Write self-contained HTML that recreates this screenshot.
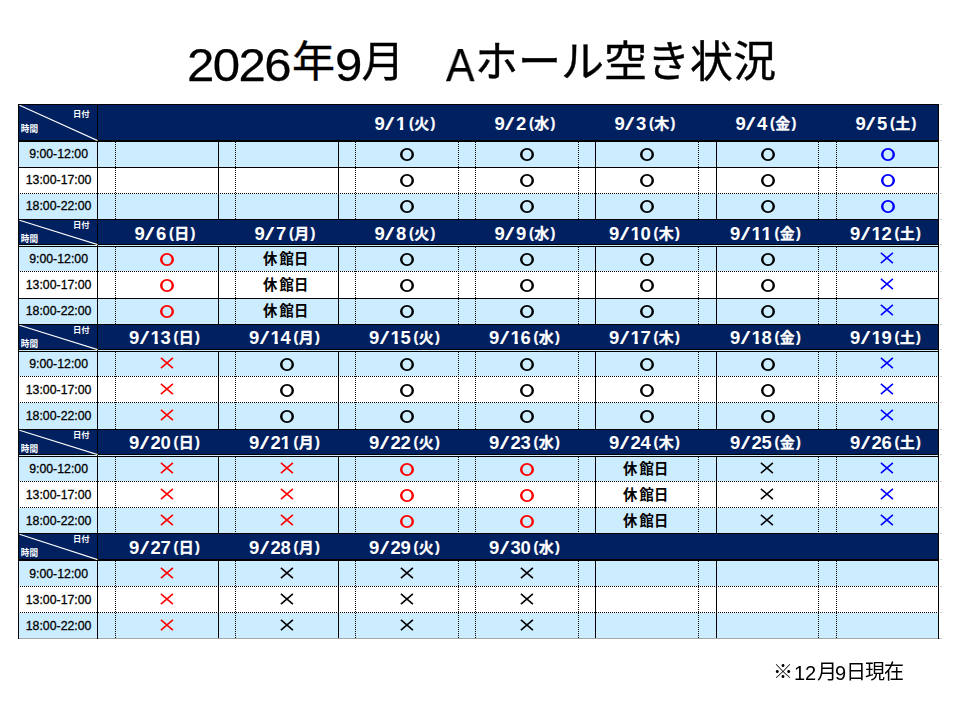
<!DOCTYPE html>
<html lang="ja"><head><meta charset="utf-8"><title>2026年9月 Aホール空き状況</title>
<style>
html,body{margin:0;padding:0;background:#fff}
body{width:960px;height:720px;position:relative;overflow:hidden;font-family:"Liberation Sans","Noto Sans CJK JP",sans-serif;color:#000}
.r,.hd,.vd,.k,.diag,.tm,.dh,.o,.x,.hk,.tl,.nl,.corner,.tk,.cl,.hc{position:absolute}
.corner{left:0;top:0}
.hd{height:1px;background:repeating-linear-gradient(90deg,#000 0,#000 1px,transparent 1px,transparent 2px)}
.vd{width:1px;background:repeating-linear-gradient(180deg,#000 0,#000 1px,transparent 1px,transparent 2px)}
.k{overflow:visible}
h1{margin:0;font-weight:normal;font-size:45.5px}
.tl{will-change:transform;-webkit-text-stroke:.25px #000;top:39.8px;font-size:45.5px;line-height:52px;white-space:nowrap}
.tk{top:41px;font-size:43px;line-height:43px;white-space:nowrap;-webkit-text-stroke:.4px #000;font-family:"Liberation Sans","Noto Sans CJK JP",sans-serif}
.nl{will-change:transform;top:661px;font-size:20px;line-height:24px;white-space:nowrap}
.tm{left:19.6px;width:78px;-webkit-text-stroke:.3px #000;height:15.48px;line-height:15.48px;text-align:center;font-size:12.3px;white-space:nowrap}
.dh{color:#fff;font-size:18.5px;font-weight:bold;height:19.2px;line-height:19.2px;white-space:nowrap}
.dh .d{display:inline-block;letter-spacing:-.39px;transform:scaleY(.946);transform-origin:50% 16px}
.dh .one{display:inline-block;clip-path:polygon(0 0,100% 0,100% 13.9px,7.3px 13.9px,7.3px 100%,3.9px 100%,3.9px 13.9px,0 13.9px)}
.dh .sl{display:inline-block;width:11.7px;text-align:center;position:relative;left:-.35px}
.dh .sl i{display:inline-block;font-style:normal;font-weight:normal;font-size:17.5px;transform:scale(1.95,1.1);transform-origin:50% 62%}
.dh .p{display:inline-block;font-size:14.5px;position:relative;top:-2.5px;width:4.83px;-webkit-text-stroke:.2px #fff}
.dh .pl{margin-left:3.2px}
.dh .pr{margin-left:1.2px}
.dh .kj{position:relative;top:-.6px;margin:0 .1px 0 .4px;font-size:15px;line-height:0;font-weight:bold;color:#fff;-webkit-text-stroke:.3px #fff;font-family:"Liberation Sans","Noto Sans CJK JP",sans-serif}
.hk{width:100px;height:25px}
.hc{top:4.6px;font-size:14.3px;line-height:14.3px;font-weight:bold;color:#000;white-space:nowrap;font-family:"Liberation Sans","Noto Sans CJK JP",sans-serif}
.cl{color:#fff;font-weight:bold;white-space:nowrap;line-height:1;font-family:"Liberation Sans","Noto Sans CJK JP",sans-serif}
</style></head>
<body>
<h1 aria-label="2026年9月　Aホール空き状況"><span class="tl" style="left:187.4px;letter-spacing:-1.45px;transform:scaleX(1.08);transform-origin:0 0">2026</span><span class="tl" style="left:334.9px;transform:scaleX(1.08);transform-origin:0 0">9</span><span class="tl" style="left:446.3px;transform:scaleX(.94);transform-origin:0 0">A</span><span class="tk" style="left:291.9px">年</span><span class="tk" style="left:361.5px">月</span><span class="tk" style="left:475px">ホール空き状況</span></h1>
<div class="tbl"><div class="r" style="left:18px;top:104px;width:921px;height:1px;background:#000"></div>
<div class="r" style="left:18px;top:105px;width:921px;height:35px;background:#002060"></div>
<div class="r" style="left:18px;top:140px;width:921px;height:2px;background:#000"></div>
<div class="r" style="left:18px;top:142px;width:921px;height:25px;background:#ccecff"></div>
<div class="r" style="left:18px;top:168px;width:921px;height:25px;background:#fff"></div>
<div class="r" style="left:18px;top:194px;width:921px;height:25px;background:#ccecff"></div>
<div class="r" style="left:18px;top:167px;width:921px;height:1px;background:#000"></div>
<div class="hd" style="left:18px;top:193px;width:921px"></div>
<div class="r" style="left:18px;top:219px;width:921px;height:1px;background:#000"></div>
<div class="r" style="left:97px;top:142px;width:1px;height:77px;background:#000"></div>
<div class="vd" style="left:115px;top:142px;height:77px"></div>
<div class="r" style="left:218px;top:142px;width:1px;height:77px;background:#000"></div>
<div class="vd" style="left:235px;top:142px;height:77px"></div>
<div class="r" style="left:338px;top:142px;width:1px;height:77px;background:#000"></div>
<div class="vd" style="left:355px;top:142px;height:77px"></div>
<div class="vd" style="left:458px;top:142px;height:77px"></div>
<div class="vd" style="left:475px;top:142px;height:77px"></div>
<div class="vd" style="left:578px;top:142px;height:77px"></div>
<div class="r" style="left:595px;top:142px;width:1px;height:77px;background:#000"></div>
<div class="vd" style="left:698px;top:142px;height:77px"></div>
<div class="r" style="left:716px;top:142px;width:1px;height:77px;background:#000"></div>
<div class="vd" style="left:818px;top:142px;height:77px"></div>
<div class="vd" style="left:836px;top:142px;height:77px"></div>
<div class="r" style="left:18px;top:220px;width:921px;height:24px;background:#002060"></div>
<div class="r" style="left:18px;top:244px;width:921px;height:1px;background:#000"></div>
<div class="r" style="left:18px;top:245px;width:921px;height:1px;background:#ccecff"></div>
<div class="r" style="left:18px;top:246px;width:921px;height:1px;background:#000"></div>
<div class="r" style="left:18px;top:247px;width:921px;height:24px;background:#ccecff"></div>
<div class="r" style="left:18px;top:272px;width:921px;height:26px;background:#fff"></div>
<div class="r" style="left:18px;top:299px;width:921px;height:25px;background:#ccecff"></div>
<div class="hd" style="left:18px;top:271px;width:921px"></div>
<div class="r" style="left:18px;top:298px;width:921px;height:1px;background:#000"></div>
<div class="r" style="left:18px;top:324px;width:921px;height:1px;background:#000"></div>
<div class="r" style="left:97px;top:247px;width:1px;height:77px;background:#000"></div>
<div class="vd" style="left:115px;top:247px;height:77px"></div>
<div class="r" style="left:218px;top:247px;width:1px;height:77px;background:#000"></div>
<div class="vd" style="left:235px;top:247px;height:77px"></div>
<div class="r" style="left:338px;top:247px;width:1px;height:77px;background:#000"></div>
<div class="vd" style="left:355px;top:247px;height:77px"></div>
<div class="vd" style="left:458px;top:247px;height:77px"></div>
<div class="vd" style="left:475px;top:247px;height:77px"></div>
<div class="vd" style="left:578px;top:247px;height:77px"></div>
<div class="r" style="left:595px;top:247px;width:1px;height:77px;background:#000"></div>
<div class="vd" style="left:698px;top:247px;height:77px"></div>
<div class="r" style="left:716px;top:247px;width:1px;height:77px;background:#000"></div>
<div class="vd" style="left:818px;top:247px;height:77px"></div>
<div class="vd" style="left:836px;top:247px;height:77px"></div>
<div class="r" style="left:18px;top:325px;width:921px;height:24px;background:#002060"></div>
<div class="r" style="left:18px;top:349px;width:921px;height:1px;background:#000"></div>
<div class="r" style="left:18px;top:350px;width:921px;height:1px;background:#ccecff"></div>
<div class="r" style="left:18px;top:351px;width:921px;height:1px;background:#000"></div>
<div class="r" style="left:18px;top:352px;width:921px;height:24px;background:#ccecff"></div>
<div class="r" style="left:18px;top:377px;width:921px;height:25px;background:#fff"></div>
<div class="r" style="left:18px;top:403px;width:921px;height:26px;background:#ccecff"></div>
<div class="hd" style="left:18px;top:376px;width:921px"></div>
<div class="hd" style="left:18px;top:402px;width:921px"></div>
<div class="r" style="left:18px;top:429px;width:921px;height:1px;background:#000"></div>
<div class="r" style="left:97px;top:352px;width:1px;height:77px;background:#000"></div>
<div class="vd" style="left:115px;top:352px;height:77px"></div>
<div class="r" style="left:218px;top:352px;width:1px;height:77px;background:#000"></div>
<div class="vd" style="left:235px;top:352px;height:77px"></div>
<div class="r" style="left:338px;top:352px;width:1px;height:77px;background:#000"></div>
<div class="vd" style="left:355px;top:352px;height:77px"></div>
<div class="vd" style="left:458px;top:352px;height:77px"></div>
<div class="vd" style="left:475px;top:352px;height:77px"></div>
<div class="vd" style="left:578px;top:352px;height:77px"></div>
<div class="r" style="left:595px;top:352px;width:1px;height:77px;background:#000"></div>
<div class="vd" style="left:698px;top:352px;height:77px"></div>
<div class="r" style="left:716px;top:352px;width:1px;height:77px;background:#000"></div>
<div class="vd" style="left:818px;top:352px;height:77px"></div>
<div class="vd" style="left:836px;top:352px;height:77px"></div>
<div class="r" style="left:18px;top:430px;width:921px;height:24px;background:#002060"></div>
<div class="r" style="left:18px;top:454px;width:921px;height:1px;background:#000"></div>
<div class="r" style="left:18px;top:455px;width:921px;height:1px;background:#ccecff"></div>
<div class="r" style="left:18px;top:456px;width:921px;height:1px;background:#000"></div>
<div class="r" style="left:18px;top:457px;width:921px;height:24px;background:#ccecff"></div>
<div class="r" style="left:18px;top:482px;width:921px;height:25px;background:#fff"></div>
<div class="r" style="left:18px;top:508px;width:921px;height:25px;background:#ccecff"></div>
<div class="hd" style="left:18px;top:481px;width:921px"></div>
<div class="hd" style="left:18px;top:507px;width:921px"></div>
<div class="r" style="left:18px;top:533px;width:921px;height:1px;background:#000"></div>
<div class="r" style="left:97px;top:457px;width:1px;height:76px;background:#000"></div>
<div class="vd" style="left:115px;top:457px;height:76px"></div>
<div class="r" style="left:218px;top:457px;width:1px;height:76px;background:#000"></div>
<div class="vd" style="left:235px;top:457px;height:76px"></div>
<div class="r" style="left:338px;top:457px;width:1px;height:76px;background:#000"></div>
<div class="vd" style="left:355px;top:457px;height:76px"></div>
<div class="vd" style="left:458px;top:457px;height:76px"></div>
<div class="vd" style="left:475px;top:457px;height:76px"></div>
<div class="vd" style="left:578px;top:457px;height:76px"></div>
<div class="r" style="left:595px;top:457px;width:1px;height:76px;background:#000"></div>
<div class="vd" style="left:698px;top:457px;height:76px"></div>
<div class="r" style="left:716px;top:457px;width:1px;height:76px;background:#000"></div>
<div class="vd" style="left:818px;top:457px;height:76px"></div>
<div class="vd" style="left:836px;top:457px;height:76px"></div>
<div class="r" style="left:18px;top:534px;width:921px;height:25px;background:#002060"></div>
<div class="r" style="left:18px;top:559px;width:921px;height:2px;background:#000"></div>
<div class="r" style="left:18px;top:561px;width:921px;height:25px;background:#ccecff"></div>
<div class="r" style="left:18px;top:587px;width:921px;height:25px;background:#fff"></div>
<div class="r" style="left:18px;top:613px;width:921px;height:25px;background:#ccecff"></div>
<div class="hd" style="left:18px;top:586px;width:921px"></div>
<div class="hd" style="left:18px;top:612px;width:921px"></div>
<div class="r" style="left:18px;top:638px;width:924px;height:1px;background:#a6a6a6"></div>
<div class="r" style="left:97px;top:561px;width:1px;height:77px;background:#000"></div>
<div class="vd" style="left:115px;top:561px;height:77px"></div>
<div class="r" style="left:218px;top:561px;width:1px;height:77px;background:#000"></div>
<div class="vd" style="left:235px;top:561px;height:77px"></div>
<div class="r" style="left:338px;top:561px;width:1px;height:77px;background:#000"></div>
<div class="vd" style="left:355px;top:561px;height:77px"></div>
<div class="vd" style="left:458px;top:561px;height:77px"></div>
<div class="vd" style="left:475px;top:561px;height:77px"></div>
<div class="vd" style="left:578px;top:561px;height:77px"></div>
<div class="r" style="left:595px;top:561px;width:1px;height:77px;background:#000"></div>
<div class="vd" style="left:698px;top:561px;height:77px"></div>
<div class="r" style="left:716px;top:561px;width:1px;height:77px;background:#000"></div>
<div class="vd" style="left:818px;top:561px;height:77px"></div>
<div class="vd" style="left:836px;top:561px;height:77px"></div>
<div class="r" style="left:18px;top:104px;width:1px;height:535px;background:#000"></div>
<div class="r" style="left:97px;top:104px;width:1px;height:535px;background:#000"></div>
<div class="r" style="left:938px;top:104px;width:1px;height:535px;background:#000"></div>
<div class="r" style="left:940px;top:104px;width:2px;height:1px;background:#d0d0d0"></div>
<div class="r" style="left:940px;top:140px;width:2px;height:1px;background:#d0d0d0"></div>
<div class="r" style="left:940px;top:167px;width:2px;height:1px;background:#d0d0d0"></div>
<div class="r" style="left:940px;top:193px;width:2px;height:1px;background:#d0d0d0"></div>
<div class="r" style="left:940px;top:219px;width:2px;height:1px;background:#d0d0d0"></div>
<div class="r" style="left:940px;top:244px;width:2px;height:1px;background:#d0d0d0"></div>
<div class="r" style="left:940px;top:271px;width:2px;height:1px;background:#d0d0d0"></div>
<div class="r" style="left:940px;top:298px;width:2px;height:1px;background:#d0d0d0"></div>
<div class="r" style="left:940px;top:324px;width:2px;height:1px;background:#d0d0d0"></div>
<div class="r" style="left:940px;top:349px;width:2px;height:1px;background:#d0d0d0"></div>
<div class="r" style="left:940px;top:376px;width:2px;height:1px;background:#d0d0d0"></div>
<div class="r" style="left:940px;top:402px;width:2px;height:1px;background:#d0d0d0"></div>
<div class="r" style="left:940px;top:429px;width:2px;height:1px;background:#d0d0d0"></div>
<div class="r" style="left:940px;top:454px;width:2px;height:1px;background:#d0d0d0"></div>
<div class="r" style="left:940px;top:481px;width:2px;height:1px;background:#d0d0d0"></div>
<div class="r" style="left:940px;top:507px;width:2px;height:1px;background:#d0d0d0"></div>
<div class="r" style="left:940px;top:533px;width:2px;height:1px;background:#d0d0d0"></div>
<div class="r" style="left:940px;top:559px;width:2px;height:1px;background:#d0d0d0"></div>
<div class="r" style="left:940px;top:586px;width:2px;height:1px;background:#d0d0d0"></div>
<div class="r" style="left:940px;top:612px;width:2px;height:1px;background:#d0d0d0"></div>
<div class="r" style="left:940px;top:638px;width:2px;height:1px;background:#d0d0d0"></div>
<svg class="diag" style="left:19px;top:105px" width="79" height="36"><line x1="0.5" y1="0.3" x2="78.5" y2="35.6" stroke="#fff" stroke-width="1.15"/></svg>
<div class="corner"><span class="cl" style="left:73px;top:110.1px;font-size:8.3px">日付</span><span class="cl" style="left:20.8px;top:124.6px;font-size:8.6px">時間</span></div>
<svg class="diag" style="left:19px;top:220px" width="79" height="25"><line x1="0.5" y1="0.3" x2="78.5" y2="24.6" stroke="#fff" stroke-width="1.15"/></svg>
<div class="corner"><span class="cl" style="left:73px;top:220.5px;font-size:8.3px">日付</span><span class="cl" style="left:20.8px;top:234.6px;font-size:8.6px">時間</span></div>
<svg class="diag" style="left:19px;top:325px" width="79" height="25"><line x1="0.5" y1="0.3" x2="78.5" y2="24.6" stroke="#fff" stroke-width="1.15"/></svg>
<div class="corner"><span class="cl" style="left:73px;top:325.5px;font-size:8.3px">日付</span><span class="cl" style="left:20.8px;top:339.6px;font-size:8.6px">時間</span></div>
<svg class="diag" style="left:19px;top:430px" width="79" height="25"><line x1="0.5" y1="0.3" x2="78.5" y2="24.6" stroke="#fff" stroke-width="1.15"/></svg>
<div class="corner"><span class="cl" style="left:73px;top:430.5px;font-size:8.3px">日付</span><span class="cl" style="left:20.8px;top:444.6px;font-size:8.6px">時間</span></div>
<svg class="diag" style="left:19px;top:534px" width="79" height="26"><line x1="0.5" y1="0.3" x2="78.5" y2="25.6" stroke="#fff" stroke-width="1.15"/></svg>
<div class="corner"><span class="cl" style="left:73px;top:534.5px;font-size:8.3px">日付</span><span class="cl" style="left:20.8px;top:548.6px;font-size:8.6px">時間</span></div>
<div class="tm" style="top:147px">9:00-12:00</div>
<div class="tm" style="top:173px">13:00-17:00</div>
<div class="tm" style="top:199px">18:00-22:00</div>
<div class="tm" style="top:252px">9:00-12:00</div>
<div class="tm" style="top:278px">13:00-17:00</div>
<div class="tm" style="top:304px">18:00-22:00</div>
<div class="tm" style="top:357px">9:00-12:00</div>
<div class="tm" style="top:383px">13:00-17:00</div>
<div class="tm" style="top:409px">18:00-22:00</div>
<div class="tm" style="top:462px">9:00-12:00</div>
<div class="tm" style="top:488px">13:00-17:00</div>
<div class="tm" style="top:514px">18:00-22:00</div>
<div class="tm" style="top:567px">9:00-12:00</div>
<div class="tm" style="top:593px">13:00-17:00</div>
<div class="tm" style="top:619px">18:00-22:00</div>
<div class="dh" style="left:374.40px;top:114px"><span class="d">9</span><span class="sl"><i>/</i></span><span class="d"><span class="one">1</span></span><span class="p pl">(</span><span class="kj">火</span><span class="p pr">)</span></div>
<svg class="o" style="left:400px;top:148.05px" width="14" height="13" viewBox="0 0 14 13" role="img" aria-label="○"><path fill="#000000" fill-rule="evenodd" d="M0 6.5A7 6.5 0 1 0 14 6.5A7 6.5 0 1 0 0 6.5ZM2.45 6.5A4.55 4.8 0 1 0 11.55 6.5A4.55 4.8 0 1 0 2.45 6.5Z"/></svg>
<svg class="o" style="left:400px;top:174.05px" width="14" height="13" viewBox="0 0 14 13" role="img" aria-label="○"><path fill="#000000" fill-rule="evenodd" d="M0 6.5A7 6.5 0 1 0 14 6.5A7 6.5 0 1 0 0 6.5ZM2.45 6.5A4.55 4.8 0 1 0 11.55 6.5A4.55 4.8 0 1 0 2.45 6.5Z"/></svg>
<svg class="o" style="left:400px;top:200.05px" width="14" height="13" viewBox="0 0 14 13" role="img" aria-label="○"><path fill="#000000" fill-rule="evenodd" d="M0 6.5A7 6.5 0 1 0 14 6.5A7 6.5 0 1 0 0 6.5ZM2.45 6.5A4.55 4.8 0 1 0 11.55 6.5A4.55 4.8 0 1 0 2.45 6.5Z"/></svg>
<div class="dh" style="left:494.40px;top:114px"><span class="d">9</span><span class="sl"><i>/</i></span><span class="d">2</span><span class="p pl">(</span><span class="kj">水</span><span class="p pr">)</span></div>
<svg class="o" style="left:520px;top:148.05px" width="14" height="13" viewBox="0 0 14 13" role="img" aria-label="○"><path fill="#000000" fill-rule="evenodd" d="M0 6.5A7 6.5 0 1 0 14 6.5A7 6.5 0 1 0 0 6.5ZM2.45 6.5A4.55 4.8 0 1 0 11.55 6.5A4.55 4.8 0 1 0 2.45 6.5Z"/></svg>
<svg class="o" style="left:520px;top:174.05px" width="14" height="13" viewBox="0 0 14 13" role="img" aria-label="○"><path fill="#000000" fill-rule="evenodd" d="M0 6.5A7 6.5 0 1 0 14 6.5A7 6.5 0 1 0 0 6.5ZM2.45 6.5A4.55 4.8 0 1 0 11.55 6.5A4.55 4.8 0 1 0 2.45 6.5Z"/></svg>
<svg class="o" style="left:520px;top:200.05px" width="14" height="13" viewBox="0 0 14 13" role="img" aria-label="○"><path fill="#000000" fill-rule="evenodd" d="M0 6.5A7 6.5 0 1 0 14 6.5A7 6.5 0 1 0 0 6.5ZM2.45 6.5A4.55 4.8 0 1 0 11.55 6.5A4.55 4.8 0 1 0 2.45 6.5Z"/></svg>
<div class="dh" style="left:614.40px;top:114px"><span class="d">9</span><span class="sl"><i>/</i></span><span class="d">3</span><span class="p pl">(</span><span class="kj">木</span><span class="p pr">)</span></div>
<svg class="o" style="left:640px;top:148.05px" width="14" height="13" viewBox="0 0 14 13" role="img" aria-label="○"><path fill="#000000" fill-rule="evenodd" d="M0 6.5A7 6.5 0 1 0 14 6.5A7 6.5 0 1 0 0 6.5ZM2.45 6.5A4.55 4.8 0 1 0 11.55 6.5A4.55 4.8 0 1 0 2.45 6.5Z"/></svg>
<svg class="o" style="left:640px;top:174.05px" width="14" height="13" viewBox="0 0 14 13" role="img" aria-label="○"><path fill="#000000" fill-rule="evenodd" d="M0 6.5A7 6.5 0 1 0 14 6.5A7 6.5 0 1 0 0 6.5ZM2.45 6.5A4.55 4.8 0 1 0 11.55 6.5A4.55 4.8 0 1 0 2.45 6.5Z"/></svg>
<svg class="o" style="left:640px;top:200.05px" width="14" height="13" viewBox="0 0 14 13" role="img" aria-label="○"><path fill="#000000" fill-rule="evenodd" d="M0 6.5A7 6.5 0 1 0 14 6.5A7 6.5 0 1 0 0 6.5ZM2.45 6.5A4.55 4.8 0 1 0 11.55 6.5A4.55 4.8 0 1 0 2.45 6.5Z"/></svg>
<div class="dh" style="left:735.40px;top:114px"><span class="d">9</span><span class="sl"><i>/</i></span><span class="d">4</span><span class="p pl">(</span><span class="kj">金</span><span class="p pr">)</span></div>
<svg class="o" style="left:760.5px;top:148.05px" width="14" height="13" viewBox="0 0 14 13" role="img" aria-label="○"><path fill="#000000" fill-rule="evenodd" d="M0 6.5A7 6.5 0 1 0 14 6.5A7 6.5 0 1 0 0 6.5ZM2.45 6.5A4.55 4.8 0 1 0 11.55 6.5A4.55 4.8 0 1 0 2.45 6.5Z"/></svg>
<svg class="o" style="left:760.5px;top:174.05px" width="14" height="13" viewBox="0 0 14 13" role="img" aria-label="○"><path fill="#000000" fill-rule="evenodd" d="M0 6.5A7 6.5 0 1 0 14 6.5A7 6.5 0 1 0 0 6.5ZM2.45 6.5A4.55 4.8 0 1 0 11.55 6.5A4.55 4.8 0 1 0 2.45 6.5Z"/></svg>
<svg class="o" style="left:760.5px;top:200.05px" width="14" height="13" viewBox="0 0 14 13" role="img" aria-label="○"><path fill="#000000" fill-rule="evenodd" d="M0 6.5A7 6.5 0 1 0 14 6.5A7 6.5 0 1 0 0 6.5ZM2.45 6.5A4.55 4.8 0 1 0 11.55 6.5A4.55 4.8 0 1 0 2.45 6.5Z"/></svg>
<div class="dh" style="left:855.40px;top:114px"><span class="d">9</span><span class="sl"><i>/</i></span><span class="d">5</span><span class="p pl">(</span><span class="kj">土</span><span class="p pr">)</span></div>
<svg class="o" style="left:880.5px;top:148.05px" width="14" height="13" viewBox="0 0 14 13" role="img" aria-label="○"><path fill="#0000ff" fill-rule="evenodd" d="M0 6.5A7 6.5 0 1 0 14 6.5A7 6.5 0 1 0 0 6.5ZM2.45 6.5A4.55 4.8 0 1 0 11.55 6.5A4.55 4.8 0 1 0 2.45 6.5Z"/></svg>
<svg class="o" style="left:880.5px;top:174.05px" width="14" height="13" viewBox="0 0 14 13" role="img" aria-label="○"><path fill="#0000ff" fill-rule="evenodd" d="M0 6.5A7 6.5 0 1 0 14 6.5A7 6.5 0 1 0 0 6.5ZM2.45 6.5A4.55 4.8 0 1 0 11.55 6.5A4.55 4.8 0 1 0 2.45 6.5Z"/></svg>
<svg class="o" style="left:880.5px;top:200.05px" width="14" height="13" viewBox="0 0 14 13" role="img" aria-label="○"><path fill="#0000ff" fill-rule="evenodd" d="M0 6.5A7 6.5 0 1 0 14 6.5A7 6.5 0 1 0 0 6.5ZM2.45 6.5A4.55 4.8 0 1 0 11.55 6.5A4.55 4.8 0 1 0 2.45 6.5Z"/></svg>
<div class="dh" style="left:134.40px;top:224px"><span class="d">9</span><span class="sl"><i>/</i></span><span class="d">6</span><span class="p pl">(</span><span class="kj">日</span><span class="p pr">)</span></div>
<svg class="o" style="left:160px;top:253.05px" width="14" height="13" viewBox="0 0 14 13" role="img" aria-label="○"><path fill="#ff0000" fill-rule="evenodd" d="M0 6.5A7 6.5 0 1 0 14 6.5A7 6.5 0 1 0 0 6.5ZM2.45 6.5A4.55 4.8 0 1 0 11.55 6.5A4.55 4.8 0 1 0 2.45 6.5Z"/></svg>
<svg class="o" style="left:160px;top:279.05px" width="14" height="13" viewBox="0 0 14 13" role="img" aria-label="○"><path fill="#ff0000" fill-rule="evenodd" d="M0 6.5A7 6.5 0 1 0 14 6.5A7 6.5 0 1 0 0 6.5ZM2.45 6.5A4.55 4.8 0 1 0 11.55 6.5A4.55 4.8 0 1 0 2.45 6.5Z"/></svg>
<svg class="o" style="left:160px;top:305.05px" width="14" height="13" viewBox="0 0 14 13" role="img" aria-label="○"><path fill="#ff0000" fill-rule="evenodd" d="M0 6.5A7 6.5 0 1 0 14 6.5A7 6.5 0 1 0 0 6.5ZM2.45 6.5A4.55 4.8 0 1 0 11.55 6.5A4.55 4.8 0 1 0 2.45 6.5Z"/></svg>
<div class="dh" style="left:254.40px;top:224px"><span class="d">9</span><span class="sl"><i>/</i></span><span class="d">7</span><span class="p pl">(</span><span class="kj">月</span><span class="p pr">)</span></div>
<div class="hk" style="left:236px;top:247px"><span class="hc" style="left:26.9px">休</span><span class="hc" style="left:43.5px">館</span><span class="hc" style="left:58.1px">日</span></div>
<div class="hk" style="left:236px;top:273px"><span class="hc" style="left:26.9px">休</span><span class="hc" style="left:43.5px">館</span><span class="hc" style="left:58.1px">日</span></div>
<div class="hk" style="left:236px;top:299px"><span class="hc" style="left:26.9px">休</span><span class="hc" style="left:43.5px">館</span><span class="hc" style="left:58.1px">日</span></div>
<div class="dh" style="left:374.40px;top:224px"><span class="d">9</span><span class="sl"><i>/</i></span><span class="d">8</span><span class="p pl">(</span><span class="kj">火</span><span class="p pr">)</span></div>
<svg class="o" style="left:400px;top:253.05px" width="14" height="13" viewBox="0 0 14 13" role="img" aria-label="○"><path fill="#000000" fill-rule="evenodd" d="M0 6.5A7 6.5 0 1 0 14 6.5A7 6.5 0 1 0 0 6.5ZM2.45 6.5A4.55 4.8 0 1 0 11.55 6.5A4.55 4.8 0 1 0 2.45 6.5Z"/></svg>
<svg class="o" style="left:400px;top:279.05px" width="14" height="13" viewBox="0 0 14 13" role="img" aria-label="○"><path fill="#000000" fill-rule="evenodd" d="M0 6.5A7 6.5 0 1 0 14 6.5A7 6.5 0 1 0 0 6.5ZM2.45 6.5A4.55 4.8 0 1 0 11.55 6.5A4.55 4.8 0 1 0 2.45 6.5Z"/></svg>
<svg class="o" style="left:400px;top:305.05px" width="14" height="13" viewBox="0 0 14 13" role="img" aria-label="○"><path fill="#000000" fill-rule="evenodd" d="M0 6.5A7 6.5 0 1 0 14 6.5A7 6.5 0 1 0 0 6.5ZM2.45 6.5A4.55 4.8 0 1 0 11.55 6.5A4.55 4.8 0 1 0 2.45 6.5Z"/></svg>
<div class="dh" style="left:494.40px;top:224px"><span class="d">9</span><span class="sl"><i>/</i></span><span class="d">9</span><span class="p pl">(</span><span class="kj">水</span><span class="p pr">)</span></div>
<svg class="o" style="left:520px;top:253.05px" width="14" height="13" viewBox="0 0 14 13" role="img" aria-label="○"><path fill="#000000" fill-rule="evenodd" d="M0 6.5A7 6.5 0 1 0 14 6.5A7 6.5 0 1 0 0 6.5ZM2.45 6.5A4.55 4.8 0 1 0 11.55 6.5A4.55 4.8 0 1 0 2.45 6.5Z"/></svg>
<svg class="o" style="left:520px;top:279.05px" width="14" height="13" viewBox="0 0 14 13" role="img" aria-label="○"><path fill="#000000" fill-rule="evenodd" d="M0 6.5A7 6.5 0 1 0 14 6.5A7 6.5 0 1 0 0 6.5ZM2.45 6.5A4.55 4.8 0 1 0 11.55 6.5A4.55 4.8 0 1 0 2.45 6.5Z"/></svg>
<svg class="o" style="left:520px;top:305.05px" width="14" height="13" viewBox="0 0 14 13" role="img" aria-label="○"><path fill="#000000" fill-rule="evenodd" d="M0 6.5A7 6.5 0 1 0 14 6.5A7 6.5 0 1 0 0 6.5ZM2.45 6.5A4.55 4.8 0 1 0 11.55 6.5A4.55 4.8 0 1 0 2.45 6.5Z"/></svg>
<div class="dh" style="left:609.00px;top:224px"><span class="d">9</span><span class="sl"><i>/</i></span><span class="d"><span class="one">1</span>0</span><span class="p pl">(</span><span class="kj">木</span><span class="p pr">)</span></div>
<svg class="o" style="left:640px;top:253.05px" width="14" height="13" viewBox="0 0 14 13" role="img" aria-label="○"><path fill="#000000" fill-rule="evenodd" d="M0 6.5A7 6.5 0 1 0 14 6.5A7 6.5 0 1 0 0 6.5ZM2.45 6.5A4.55 4.8 0 1 0 11.55 6.5A4.55 4.8 0 1 0 2.45 6.5Z"/></svg>
<svg class="o" style="left:640px;top:279.05px" width="14" height="13" viewBox="0 0 14 13" role="img" aria-label="○"><path fill="#000000" fill-rule="evenodd" d="M0 6.5A7 6.5 0 1 0 14 6.5A7 6.5 0 1 0 0 6.5ZM2.45 6.5A4.55 4.8 0 1 0 11.55 6.5A4.55 4.8 0 1 0 2.45 6.5Z"/></svg>
<svg class="o" style="left:640px;top:305.05px" width="14" height="13" viewBox="0 0 14 13" role="img" aria-label="○"><path fill="#000000" fill-rule="evenodd" d="M0 6.5A7 6.5 0 1 0 14 6.5A7 6.5 0 1 0 0 6.5ZM2.45 6.5A4.55 4.8 0 1 0 11.55 6.5A4.55 4.8 0 1 0 2.45 6.5Z"/></svg>
<div class="dh" style="left:730.00px;top:224px"><span class="d">9</span><span class="sl"><i>/</i></span><span class="d"><span class="one">1</span><span class="one">1</span></span><span class="p pl">(</span><span class="kj">金</span><span class="p pr">)</span></div>
<svg class="o" style="left:760.5px;top:253.05px" width="14" height="13" viewBox="0 0 14 13" role="img" aria-label="○"><path fill="#000000" fill-rule="evenodd" d="M0 6.5A7 6.5 0 1 0 14 6.5A7 6.5 0 1 0 0 6.5ZM2.45 6.5A4.55 4.8 0 1 0 11.55 6.5A4.55 4.8 0 1 0 2.45 6.5Z"/></svg>
<svg class="o" style="left:760.5px;top:279.05px" width="14" height="13" viewBox="0 0 14 13" role="img" aria-label="○"><path fill="#000000" fill-rule="evenodd" d="M0 6.5A7 6.5 0 1 0 14 6.5A7 6.5 0 1 0 0 6.5ZM2.45 6.5A4.55 4.8 0 1 0 11.55 6.5A4.55 4.8 0 1 0 2.45 6.5Z"/></svg>
<svg class="o" style="left:760.5px;top:305.05px" width="14" height="13" viewBox="0 0 14 13" role="img" aria-label="○"><path fill="#000000" fill-rule="evenodd" d="M0 6.5A7 6.5 0 1 0 14 6.5A7 6.5 0 1 0 0 6.5ZM2.45 6.5A4.55 4.8 0 1 0 11.55 6.5A4.55 4.8 0 1 0 2.45 6.5Z"/></svg>
<div class="dh" style="left:850.00px;top:224px"><span class="d">9</span><span class="sl"><i>/</i></span><span class="d"><span class="one">1</span>2</span><span class="p pl">(</span><span class="kj">土</span><span class="p pr">)</span></div>
<svg class="x" style="left:880.3px;top:251.6px" width="14" height="12" viewBox="0 0 14 12" role="img" aria-label="×"><path d="M0.9 0.8 L12.9 11.2 M12.9 0.8 L0.9 11.2" stroke="#0000ff" stroke-width="1.55" fill="none"/></svg>
<svg class="x" style="left:880.3px;top:277.6px" width="14" height="12" viewBox="0 0 14 12" role="img" aria-label="×"><path d="M0.9 0.8 L12.9 11.2 M12.9 0.8 L0.9 11.2" stroke="#0000ff" stroke-width="1.55" fill="none"/></svg>
<svg class="x" style="left:880.3px;top:303.6px" width="14" height="12" viewBox="0 0 14 12" role="img" aria-label="×"><path d="M0.9 0.8 L12.9 11.2 M12.9 0.8 L0.9 11.2" stroke="#0000ff" stroke-width="1.55" fill="none"/></svg>
<div class="dh" style="left:129.00px;top:328px"><span class="d">9</span><span class="sl"><i>/</i></span><span class="d"><span class="one">1</span>3</span><span class="p pl">(</span><span class="kj">日</span><span class="p pr">)</span></div>
<svg class="x" style="left:159.8px;top:356.6px" width="14" height="12" viewBox="0 0 14 12" role="img" aria-label="×"><path d="M0.9 0.8 L12.9 11.2 M12.9 0.8 L0.9 11.2" stroke="#ff0000" stroke-width="1.55" fill="none"/></svg>
<svg class="x" style="left:159.8px;top:382.6px" width="14" height="12" viewBox="0 0 14 12" role="img" aria-label="×"><path d="M0.9 0.8 L12.9 11.2 M12.9 0.8 L0.9 11.2" stroke="#ff0000" stroke-width="1.55" fill="none"/></svg>
<svg class="x" style="left:159.8px;top:408.6px" width="14" height="12" viewBox="0 0 14 12" role="img" aria-label="×"><path d="M0.9 0.8 L12.9 11.2 M12.9 0.8 L0.9 11.2" stroke="#ff0000" stroke-width="1.55" fill="none"/></svg>
<div class="dh" style="left:249.00px;top:328px"><span class="d">9</span><span class="sl"><i>/</i></span><span class="d"><span class="one">1</span>4</span><span class="p pl">(</span><span class="kj">月</span><span class="p pr">)</span></div>
<svg class="o" style="left:280px;top:358.05px" width="14" height="13" viewBox="0 0 14 13" role="img" aria-label="○"><path fill="#000000" fill-rule="evenodd" d="M0 6.5A7 6.5 0 1 0 14 6.5A7 6.5 0 1 0 0 6.5ZM2.45 6.5A4.55 4.8 0 1 0 11.55 6.5A4.55 4.8 0 1 0 2.45 6.5Z"/></svg>
<svg class="o" style="left:280px;top:384.05px" width="14" height="13" viewBox="0 0 14 13" role="img" aria-label="○"><path fill="#000000" fill-rule="evenodd" d="M0 6.5A7 6.5 0 1 0 14 6.5A7 6.5 0 1 0 0 6.5ZM2.45 6.5A4.55 4.8 0 1 0 11.55 6.5A4.55 4.8 0 1 0 2.45 6.5Z"/></svg>
<svg class="o" style="left:280px;top:410.05px" width="14" height="13" viewBox="0 0 14 13" role="img" aria-label="○"><path fill="#000000" fill-rule="evenodd" d="M0 6.5A7 6.5 0 1 0 14 6.5A7 6.5 0 1 0 0 6.5ZM2.45 6.5A4.55 4.8 0 1 0 11.55 6.5A4.55 4.8 0 1 0 2.45 6.5Z"/></svg>
<div class="dh" style="left:369.00px;top:328px"><span class="d">9</span><span class="sl"><i>/</i></span><span class="d"><span class="one">1</span>5</span><span class="p pl">(</span><span class="kj">火</span><span class="p pr">)</span></div>
<svg class="o" style="left:400px;top:358.05px" width="14" height="13" viewBox="0 0 14 13" role="img" aria-label="○"><path fill="#000000" fill-rule="evenodd" d="M0 6.5A7 6.5 0 1 0 14 6.5A7 6.5 0 1 0 0 6.5ZM2.45 6.5A4.55 4.8 0 1 0 11.55 6.5A4.55 4.8 0 1 0 2.45 6.5Z"/></svg>
<svg class="o" style="left:400px;top:384.05px" width="14" height="13" viewBox="0 0 14 13" role="img" aria-label="○"><path fill="#000000" fill-rule="evenodd" d="M0 6.5A7 6.5 0 1 0 14 6.5A7 6.5 0 1 0 0 6.5ZM2.45 6.5A4.55 4.8 0 1 0 11.55 6.5A4.55 4.8 0 1 0 2.45 6.5Z"/></svg>
<svg class="o" style="left:400px;top:410.05px" width="14" height="13" viewBox="0 0 14 13" role="img" aria-label="○"><path fill="#000000" fill-rule="evenodd" d="M0 6.5A7 6.5 0 1 0 14 6.5A7 6.5 0 1 0 0 6.5ZM2.45 6.5A4.55 4.8 0 1 0 11.55 6.5A4.55 4.8 0 1 0 2.45 6.5Z"/></svg>
<div class="dh" style="left:489.00px;top:328px"><span class="d">9</span><span class="sl"><i>/</i></span><span class="d"><span class="one">1</span>6</span><span class="p pl">(</span><span class="kj">水</span><span class="p pr">)</span></div>
<svg class="o" style="left:520px;top:358.05px" width="14" height="13" viewBox="0 0 14 13" role="img" aria-label="○"><path fill="#000000" fill-rule="evenodd" d="M0 6.5A7 6.5 0 1 0 14 6.5A7 6.5 0 1 0 0 6.5ZM2.45 6.5A4.55 4.8 0 1 0 11.55 6.5A4.55 4.8 0 1 0 2.45 6.5Z"/></svg>
<svg class="o" style="left:520px;top:384.05px" width="14" height="13" viewBox="0 0 14 13" role="img" aria-label="○"><path fill="#000000" fill-rule="evenodd" d="M0 6.5A7 6.5 0 1 0 14 6.5A7 6.5 0 1 0 0 6.5ZM2.45 6.5A4.55 4.8 0 1 0 11.55 6.5A4.55 4.8 0 1 0 2.45 6.5Z"/></svg>
<svg class="o" style="left:520px;top:410.05px" width="14" height="13" viewBox="0 0 14 13" role="img" aria-label="○"><path fill="#000000" fill-rule="evenodd" d="M0 6.5A7 6.5 0 1 0 14 6.5A7 6.5 0 1 0 0 6.5ZM2.45 6.5A4.55 4.8 0 1 0 11.55 6.5A4.55 4.8 0 1 0 2.45 6.5Z"/></svg>
<div class="dh" style="left:609.00px;top:328px"><span class="d">9</span><span class="sl"><i>/</i></span><span class="d"><span class="one">1</span>7</span><span class="p pl">(</span><span class="kj">木</span><span class="p pr">)</span></div>
<svg class="o" style="left:640px;top:358.05px" width="14" height="13" viewBox="0 0 14 13" role="img" aria-label="○"><path fill="#000000" fill-rule="evenodd" d="M0 6.5A7 6.5 0 1 0 14 6.5A7 6.5 0 1 0 0 6.5ZM2.45 6.5A4.55 4.8 0 1 0 11.55 6.5A4.55 4.8 0 1 0 2.45 6.5Z"/></svg>
<svg class="o" style="left:640px;top:384.05px" width="14" height="13" viewBox="0 0 14 13" role="img" aria-label="○"><path fill="#000000" fill-rule="evenodd" d="M0 6.5A7 6.5 0 1 0 14 6.5A7 6.5 0 1 0 0 6.5ZM2.45 6.5A4.55 4.8 0 1 0 11.55 6.5A4.55 4.8 0 1 0 2.45 6.5Z"/></svg>
<svg class="o" style="left:640px;top:410.05px" width="14" height="13" viewBox="0 0 14 13" role="img" aria-label="○"><path fill="#000000" fill-rule="evenodd" d="M0 6.5A7 6.5 0 1 0 14 6.5A7 6.5 0 1 0 0 6.5ZM2.45 6.5A4.55 4.8 0 1 0 11.55 6.5A4.55 4.8 0 1 0 2.45 6.5Z"/></svg>
<div class="dh" style="left:730.00px;top:328px"><span class="d">9</span><span class="sl"><i>/</i></span><span class="d"><span class="one">1</span>8</span><span class="p pl">(</span><span class="kj">金</span><span class="p pr">)</span></div>
<svg class="o" style="left:760.5px;top:358.05px" width="14" height="13" viewBox="0 0 14 13" role="img" aria-label="○"><path fill="#000000" fill-rule="evenodd" d="M0 6.5A7 6.5 0 1 0 14 6.5A7 6.5 0 1 0 0 6.5ZM2.45 6.5A4.55 4.8 0 1 0 11.55 6.5A4.55 4.8 0 1 0 2.45 6.5Z"/></svg>
<svg class="o" style="left:760.5px;top:384.05px" width="14" height="13" viewBox="0 0 14 13" role="img" aria-label="○"><path fill="#000000" fill-rule="evenodd" d="M0 6.5A7 6.5 0 1 0 14 6.5A7 6.5 0 1 0 0 6.5ZM2.45 6.5A4.55 4.8 0 1 0 11.55 6.5A4.55 4.8 0 1 0 2.45 6.5Z"/></svg>
<svg class="o" style="left:760.5px;top:410.05px" width="14" height="13" viewBox="0 0 14 13" role="img" aria-label="○"><path fill="#000000" fill-rule="evenodd" d="M0 6.5A7 6.5 0 1 0 14 6.5A7 6.5 0 1 0 0 6.5ZM2.45 6.5A4.55 4.8 0 1 0 11.55 6.5A4.55 4.8 0 1 0 2.45 6.5Z"/></svg>
<div class="dh" style="left:850.00px;top:328px"><span class="d">9</span><span class="sl"><i>/</i></span><span class="d"><span class="one">1</span>9</span><span class="p pl">(</span><span class="kj">土</span><span class="p pr">)</span></div>
<svg class="x" style="left:880.3px;top:356.6px" width="14" height="12" viewBox="0 0 14 12" role="img" aria-label="×"><path d="M0.9 0.8 L12.9 11.2 M12.9 0.8 L0.9 11.2" stroke="#0000ff" stroke-width="1.55" fill="none"/></svg>
<svg class="x" style="left:880.3px;top:382.6px" width="14" height="12" viewBox="0 0 14 12" role="img" aria-label="×"><path d="M0.9 0.8 L12.9 11.2 M12.9 0.8 L0.9 11.2" stroke="#0000ff" stroke-width="1.55" fill="none"/></svg>
<svg class="x" style="left:880.3px;top:408.6px" width="14" height="12" viewBox="0 0 14 12" role="img" aria-label="×"><path d="M0.9 0.8 L12.9 11.2 M12.9 0.8 L0.9 11.2" stroke="#0000ff" stroke-width="1.55" fill="none"/></svg>
<div class="dh" style="left:129.00px;top:433px"><span class="d">9</span><span class="sl"><i>/</i></span><span class="d">20</span><span class="p pl">(</span><span class="kj">日</span><span class="p pr">)</span></div>
<svg class="x" style="left:159.8px;top:461.6px" width="14" height="12" viewBox="0 0 14 12" role="img" aria-label="×"><path d="M0.9 0.8 L12.9 11.2 M12.9 0.8 L0.9 11.2" stroke="#ff0000" stroke-width="1.55" fill="none"/></svg>
<svg class="x" style="left:159.8px;top:487.6px" width="14" height="12" viewBox="0 0 14 12" role="img" aria-label="×"><path d="M0.9 0.8 L12.9 11.2 M12.9 0.8 L0.9 11.2" stroke="#ff0000" stroke-width="1.55" fill="none"/></svg>
<svg class="x" style="left:159.8px;top:513.6px" width="14" height="12" viewBox="0 0 14 12" role="img" aria-label="×"><path d="M0.9 0.8 L12.9 11.2 M12.9 0.8 L0.9 11.2" stroke="#ff0000" stroke-width="1.55" fill="none"/></svg>
<div class="dh" style="left:249.00px;top:433px"><span class="d">9</span><span class="sl"><i>/</i></span><span class="d">2<span class="one">1</span></span><span class="p pl">(</span><span class="kj">月</span><span class="p pr">)</span></div>
<svg class="x" style="left:279.8px;top:461.6px" width="14" height="12" viewBox="0 0 14 12" role="img" aria-label="×"><path d="M0.9 0.8 L12.9 11.2 M12.9 0.8 L0.9 11.2" stroke="#ff0000" stroke-width="1.55" fill="none"/></svg>
<svg class="x" style="left:279.8px;top:487.6px" width="14" height="12" viewBox="0 0 14 12" role="img" aria-label="×"><path d="M0.9 0.8 L12.9 11.2 M12.9 0.8 L0.9 11.2" stroke="#ff0000" stroke-width="1.55" fill="none"/></svg>
<svg class="x" style="left:279.8px;top:513.6px" width="14" height="12" viewBox="0 0 14 12" role="img" aria-label="×"><path d="M0.9 0.8 L12.9 11.2 M12.9 0.8 L0.9 11.2" stroke="#ff0000" stroke-width="1.55" fill="none"/></svg>
<div class="dh" style="left:369.00px;top:433px"><span class="d">9</span><span class="sl"><i>/</i></span><span class="d">22</span><span class="p pl">(</span><span class="kj">火</span><span class="p pr">)</span></div>
<svg class="o" style="left:400px;top:463.05px" width="14" height="13" viewBox="0 0 14 13" role="img" aria-label="○"><path fill="#ff0000" fill-rule="evenodd" d="M0 6.5A7 6.5 0 1 0 14 6.5A7 6.5 0 1 0 0 6.5ZM2.45 6.5A4.55 4.8 0 1 0 11.55 6.5A4.55 4.8 0 1 0 2.45 6.5Z"/></svg>
<svg class="o" style="left:400px;top:489.05px" width="14" height="13" viewBox="0 0 14 13" role="img" aria-label="○"><path fill="#ff0000" fill-rule="evenodd" d="M0 6.5A7 6.5 0 1 0 14 6.5A7 6.5 0 1 0 0 6.5ZM2.45 6.5A4.55 4.8 0 1 0 11.55 6.5A4.55 4.8 0 1 0 2.45 6.5Z"/></svg>
<svg class="o" style="left:400px;top:515.05px" width="14" height="13" viewBox="0 0 14 13" role="img" aria-label="○"><path fill="#ff0000" fill-rule="evenodd" d="M0 6.5A7 6.5 0 1 0 14 6.5A7 6.5 0 1 0 0 6.5ZM2.45 6.5A4.55 4.8 0 1 0 11.55 6.5A4.55 4.8 0 1 0 2.45 6.5Z"/></svg>
<div class="dh" style="left:489.00px;top:433px"><span class="d">9</span><span class="sl"><i>/</i></span><span class="d">23</span><span class="p pl">(</span><span class="kj">水</span><span class="p pr">)</span></div>
<svg class="o" style="left:520px;top:463.05px" width="14" height="13" viewBox="0 0 14 13" role="img" aria-label="○"><path fill="#ff0000" fill-rule="evenodd" d="M0 6.5A7 6.5 0 1 0 14 6.5A7 6.5 0 1 0 0 6.5ZM2.45 6.5A4.55 4.8 0 1 0 11.55 6.5A4.55 4.8 0 1 0 2.45 6.5Z"/></svg>
<svg class="o" style="left:520px;top:489.05px" width="14" height="13" viewBox="0 0 14 13" role="img" aria-label="○"><path fill="#ff0000" fill-rule="evenodd" d="M0 6.5A7 6.5 0 1 0 14 6.5A7 6.5 0 1 0 0 6.5ZM2.45 6.5A4.55 4.8 0 1 0 11.55 6.5A4.55 4.8 0 1 0 2.45 6.5Z"/></svg>
<svg class="o" style="left:520px;top:515.05px" width="14" height="13" viewBox="0 0 14 13" role="img" aria-label="○"><path fill="#ff0000" fill-rule="evenodd" d="M0 6.5A7 6.5 0 1 0 14 6.5A7 6.5 0 1 0 0 6.5ZM2.45 6.5A4.55 4.8 0 1 0 11.55 6.5A4.55 4.8 0 1 0 2.45 6.5Z"/></svg>
<div class="dh" style="left:609.00px;top:433px"><span class="d">9</span><span class="sl"><i>/</i></span><span class="d">24</span><span class="p pl">(</span><span class="kj">木</span><span class="p pr">)</span></div>
<div class="hk" style="left:596px;top:457px"><span class="hc" style="left:26.9px">休</span><span class="hc" style="left:43.5px">館</span><span class="hc" style="left:58.1px">日</span></div>
<div class="hk" style="left:596px;top:483px"><span class="hc" style="left:26.9px">休</span><span class="hc" style="left:43.5px">館</span><span class="hc" style="left:58.1px">日</span></div>
<div class="hk" style="left:596px;top:509px"><span class="hc" style="left:26.9px">休</span><span class="hc" style="left:43.5px">館</span><span class="hc" style="left:58.1px">日</span></div>
<div class="dh" style="left:730.00px;top:433px"><span class="d">9</span><span class="sl"><i>/</i></span><span class="d">25</span><span class="p pl">(</span><span class="kj">金</span><span class="p pr">)</span></div>
<svg class="x" style="left:760.3px;top:461.6px" width="14" height="12" viewBox="0 0 14 12" role="img" aria-label="×"><path d="M0.9 0.8 L12.9 11.2 M12.9 0.8 L0.9 11.2" stroke="#000000" stroke-width="1.55" fill="none"/></svg>
<svg class="x" style="left:760.3px;top:487.6px" width="14" height="12" viewBox="0 0 14 12" role="img" aria-label="×"><path d="M0.9 0.8 L12.9 11.2 M12.9 0.8 L0.9 11.2" stroke="#000000" stroke-width="1.55" fill="none"/></svg>
<svg class="x" style="left:760.3px;top:513.6px" width="14" height="12" viewBox="0 0 14 12" role="img" aria-label="×"><path d="M0.9 0.8 L12.9 11.2 M12.9 0.8 L0.9 11.2" stroke="#000000" stroke-width="1.55" fill="none"/></svg>
<div class="dh" style="left:850.00px;top:433px"><span class="d">9</span><span class="sl"><i>/</i></span><span class="d">26</span><span class="p pl">(</span><span class="kj">土</span><span class="p pr">)</span></div>
<svg class="x" style="left:880.3px;top:461.6px" width="14" height="12" viewBox="0 0 14 12" role="img" aria-label="×"><path d="M0.9 0.8 L12.9 11.2 M12.9 0.8 L0.9 11.2" stroke="#0000ff" stroke-width="1.55" fill="none"/></svg>
<svg class="x" style="left:880.3px;top:487.6px" width="14" height="12" viewBox="0 0 14 12" role="img" aria-label="×"><path d="M0.9 0.8 L12.9 11.2 M12.9 0.8 L0.9 11.2" stroke="#0000ff" stroke-width="1.55" fill="none"/></svg>
<svg class="x" style="left:880.3px;top:513.6px" width="14" height="12" viewBox="0 0 14 12" role="img" aria-label="×"><path d="M0.9 0.8 L12.9 11.2 M12.9 0.8 L0.9 11.2" stroke="#0000ff" stroke-width="1.55" fill="none"/></svg>
<div class="dh" style="left:129.00px;top:538px"><span class="d">9</span><span class="sl"><i>/</i></span><span class="d">27</span><span class="p pl">(</span><span class="kj">日</span><span class="p pr">)</span></div>
<svg class="x" style="left:159.8px;top:566.6px" width="14" height="12" viewBox="0 0 14 12" role="img" aria-label="×"><path d="M0.9 0.8 L12.9 11.2 M12.9 0.8 L0.9 11.2" stroke="#ff0000" stroke-width="1.55" fill="none"/></svg>
<svg class="x" style="left:159.8px;top:592.6px" width="14" height="12" viewBox="0 0 14 12" role="img" aria-label="×"><path d="M0.9 0.8 L12.9 11.2 M12.9 0.8 L0.9 11.2" stroke="#ff0000" stroke-width="1.55" fill="none"/></svg>
<svg class="x" style="left:159.8px;top:618.6px" width="14" height="12" viewBox="0 0 14 12" role="img" aria-label="×"><path d="M0.9 0.8 L12.9 11.2 M12.9 0.8 L0.9 11.2" stroke="#ff0000" stroke-width="1.55" fill="none"/></svg>
<div class="dh" style="left:249.00px;top:538px"><span class="d">9</span><span class="sl"><i>/</i></span><span class="d">28</span><span class="p pl">(</span><span class="kj">月</span><span class="p pr">)</span></div>
<svg class="x" style="left:279.8px;top:566.6px" width="14" height="12" viewBox="0 0 14 12" role="img" aria-label="×"><path d="M0.9 0.8 L12.9 11.2 M12.9 0.8 L0.9 11.2" stroke="#000000" stroke-width="1.55" fill="none"/></svg>
<svg class="x" style="left:279.8px;top:592.6px" width="14" height="12" viewBox="0 0 14 12" role="img" aria-label="×"><path d="M0.9 0.8 L12.9 11.2 M12.9 0.8 L0.9 11.2" stroke="#000000" stroke-width="1.55" fill="none"/></svg>
<svg class="x" style="left:279.8px;top:618.6px" width="14" height="12" viewBox="0 0 14 12" role="img" aria-label="×"><path d="M0.9 0.8 L12.9 11.2 M12.9 0.8 L0.9 11.2" stroke="#000000" stroke-width="1.55" fill="none"/></svg>
<div class="dh" style="left:369.00px;top:538px"><span class="d">9</span><span class="sl"><i>/</i></span><span class="d">29</span><span class="p pl">(</span><span class="kj">火</span><span class="p pr">)</span></div>
<svg class="x" style="left:399.8px;top:566.6px" width="14" height="12" viewBox="0 0 14 12" role="img" aria-label="×"><path d="M0.9 0.8 L12.9 11.2 M12.9 0.8 L0.9 11.2" stroke="#000000" stroke-width="1.55" fill="none"/></svg>
<svg class="x" style="left:399.8px;top:592.6px" width="14" height="12" viewBox="0 0 14 12" role="img" aria-label="×"><path d="M0.9 0.8 L12.9 11.2 M12.9 0.8 L0.9 11.2" stroke="#000000" stroke-width="1.55" fill="none"/></svg>
<svg class="x" style="left:399.8px;top:618.6px" width="14" height="12" viewBox="0 0 14 12" role="img" aria-label="×"><path d="M0.9 0.8 L12.9 11.2 M12.9 0.8 L0.9 11.2" stroke="#000000" stroke-width="1.55" fill="none"/></svg>
<div class="dh" style="left:489.00px;top:538px"><span class="d">9</span><span class="sl"><i>/</i></span><span class="d">30</span><span class="p pl">(</span><span class="kj">水</span><span class="p pr">)</span></div>
<svg class="x" style="left:519.8px;top:566.6px" width="14" height="12" viewBox="0 0 14 12" role="img" aria-label="×"><path d="M0.9 0.8 L12.9 11.2 M12.9 0.8 L0.9 11.2" stroke="#000000" stroke-width="1.55" fill="none"/></svg>
<svg class="x" style="left:519.8px;top:592.6px" width="14" height="12" viewBox="0 0 14 12" role="img" aria-label="×"><path d="M0.9 0.8 L12.9 11.2 M12.9 0.8 L0.9 11.2" stroke="#000000" stroke-width="1.55" fill="none"/></svg>
<svg class="x" style="left:519.8px;top:618.6px" width="14" height="12" viewBox="0 0 14 12" role="img" aria-label="×"><path d="M0.9 0.8 L12.9 11.2 M12.9 0.8 L0.9 11.2" stroke="#000000" stroke-width="1.55" fill="none"/></svg></div>
<p style="margin:0" aria-label="※12月9日現在"><span class="nl" style="left:773px;top:660px">※</span><span class="nl" style="left:794.3px">12</span><span class="nl" style="left:816.8px;top:660px">月</span><span class="nl" style="left:834.6px">9</span><span class="nl" style="left:845.7px;top:660px">日</span><span class="nl" style="left:864.9px;top:660px">現</span><span class="nl" style="left:883.7px;top:660px">在</span></p>
</body></html>
